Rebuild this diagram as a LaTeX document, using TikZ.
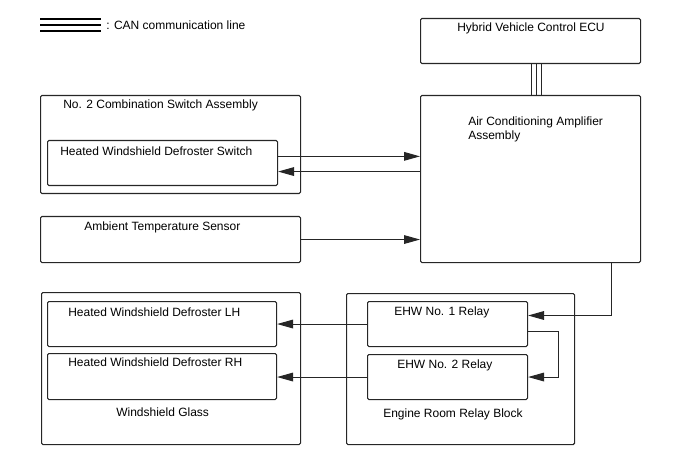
\documentclass[tikz,border=0pt]{standalone}
\usepackage{fontspec}
\setmainfont{Liberation Sans}
\usepackage{tikz}
\usetikzlibrary{positioning}
\usetikzlibrary{calc}
\usetikzlibrary{arrows.meta}

\tikzset{
	unitbox/.style={draw=black!85, line width=0.8pt, rounded corners=1pt, anchor=north west, inner sep=0pt},
	lbl/.style={font=\fontsize{9}{10.5}\selectfont, inner sep=0pt, anchor=west, text height=6.5pt, text depth=0pt},
	arr/.style={draw=black!85, line width=0.8pt, -{Triangle[length=12pt,width=6.5pt]}},
	can/.style={draw=black!85, line width=0.8pt},
	legline/.style={draw=black, line width=1.7pt}
}

\begin{document}
\begin{tikzpicture}[x=0.75pt, y=-0.75pt]
	\useasboundingbox (0,0) rectangle (688,463);
	% Legend
	\foreach \yy in {19,25,31} \draw[legline] (40,\yy) -- (101,\yy);
	\node [lbl] at (106,25) (legtxt) {: CAN communication line};
	% Draw the boxes
	\node [unitbox, minimum width=165pt, minimum height=33.75pt] at (420,18) (hvecu) {};
	\node [unitbox, minimum width=165pt, minimum height=125.25pt] at (420,95) (acamp) {};
	\node [unitbox, minimum width=195pt, minimum height=73.5pt] at (40,95) (combsw) {};
	\node [unitbox, minimum width=172.5pt, minimum height=33.75pt] at (47,140) (defsw) {};
	\node [unitbox, minimum width=195pt, minimum height=34.5pt] at (40,216) (ambsens) {};
	% Lower row
	\node [unitbox, minimum width=194.25pt, minimum height=114pt] at (41,292) (glass) {};
	\node [unitbox, minimum width=171.75pt, minimum height=33.75pt] at (47,301) (defLH) {};
	\node [unitbox, minimum width=171.75pt, minimum height=34.5pt] at (47,353) (defRH) {};
	\node [unitbox, minimum width=171pt, minimum height=113.25pt] at (346,293) (relblk) {};
	\node [unitbox, minimum width=120pt, minimum height=33.75pt] at (367,301) (ehw1) {};
	\node [unitbox, minimum width=120pt, minimum height=33.75pt] at (367,354) (ehw2) {};
	% Texts
	\node [lbl] at (457,27) (hvecutxt) {Hybrid Vehicle Control ECU};
	\node [lbl, text height=, text depth=, align=left, anchor=north west] at (468,116.5) (acamptxt) {Air Conditioning Amplifier\\Assembly};
	\node [lbl] at (63,104) (combswtxt) {No. 2 Combination Switch Assembly};
	\node [lbl] at (60,151) (defswtxt) {Heated Windshield Defroster Switch};
	\node [lbl] at (84,226) (ambsenstxt) {Ambient Temperature Sensor};
	\node [lbl] at (68,312) (defLHtxt) {Heated Windshield Defroster LH};
	\node [lbl] at (68,362) (defRHtxt) {Heated Windshield Defroster RH};
	\node [lbl] at (116,412) (glasstxt) {Windshield Glass};
	\node [lbl] at (394,311) (ehw1txt) {EHW No. 1 Relay};
	\node [lbl] at (397,364) (ehw2txt) {EHW No. 2 Relay};
	\node [lbl] at (383,413) (relblktxt) {Engine Room Relay Block};
	
	% Draw the paths between nodes
	\foreach \dx in {0.5,4.5,8.5}
		\draw[can] ([xshift=\dx pt]hvecu.south) -- ([xshift=\dx pt]acamp.north);
	\coordinate (swout) at ([yshift=5pt]defsw.east);
	\coordinate (swin) at ([yshift=-6.4pt]defsw.east);
	\draw[arr] (swout) -- (swout -| acamp.west);
	\draw[arr] (swin -| acamp.west) -- (swin);
	\draw[arr] (ambsens.east) -- (ambsens.east -| acamp.west);
	\coordinate (ampout) at ([xshift=60.75pt]acamp.south);
	\coordinate (relin) at ([yshift=6.4pt]ehw1.east);
	\coordinate (relout) at ([yshift=-5.6pt]ehw1.east);
	\draw[arr] (ampout) |- (relin);
	\draw[arr] (relout) -- ++(30,0) |- (ehw2.east);
	\draw[arr] (ehw1.west) -- (ehw1.west -| defLH.east);
	\draw[arr] (ehw2.west) -- (ehw2.west -| defRH.east);
\end{tikzpicture}
\end{document}
